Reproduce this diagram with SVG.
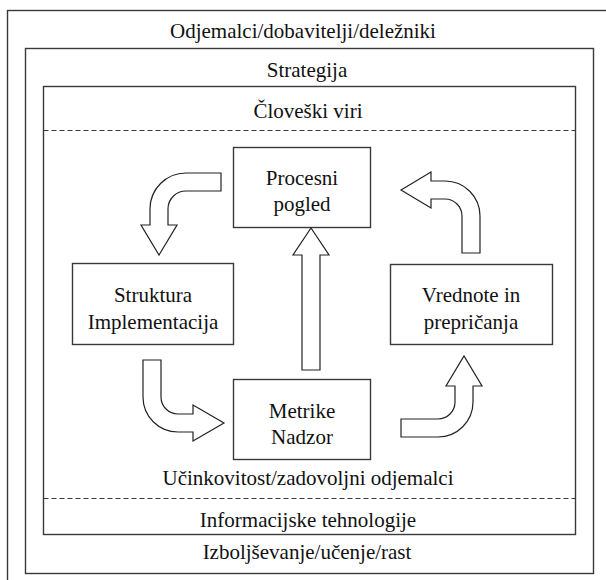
<svg xmlns="http://www.w3.org/2000/svg" width="606" height="580" viewBox="0 0 606 580">
  <style>
    .frame { fill: none; stroke: #3a3a3a; stroke-width: 1.4; }
    .box { fill: #ffffff; stroke: #3a3a3a; stroke-width: 1.4; }
    .divider { fill: none; stroke: #3a3a3a; stroke-width: 1.2; stroke-dasharray: 5 3; }
    .flow { fill: #ffffff; stroke: #222222; stroke-width: 1.2; stroke-linejoin: miter; }
    text { font-family: "Liberation Serif", "Times New Roman", serif; font-size: 21px; fill: #111111; text-anchor: middle; }
  </style>
  <rect width="606" height="580" fill="#ffffff"/>

  <!-- nested context frames -->
  <g id="frame-stakeholders">
    <rect class="frame" x="7.5" y="10.5" width="620" height="590"/>
    <text x="303" y="38">Odjemalci/dobavitelji/deležniki</text>
  </g>
  <g id="frame-strategy">
    <rect class="frame" x="25.5" y="48.5" width="568" height="525"/>
    <text x="307" y="77">Strategija</text>
    <text x="307" y="559">Izboljševanje/učenje/rast</text>
  </g>
  <g id="frame-people">
    <rect class="frame" x="43.5" y="86.5" width="532" height="448"/>
    <text x="308" y="118">Človeški viri</text>
    <line class="divider" x1="43.5" y1="130.5" x2="575.5" y2="130.5"/>
    <text x="308" y="485">Učinkovitost/zadovoljni odjemalci</text>
    <line class="divider" x1="43.5" y1="498.5" x2="575.5" y2="498.5"/>
    <text x="308" y="527">Informacijske tehnologije</text>
  </g>

  <!-- cycle nodes -->
  <g id="node-process">
    <rect class="box" x="233.5" y="147.5" width="137" height="80"/>
    <text x="302" y="185">Procesni</text>
    <text x="302" y="211">pogled</text>
  </g>
  <g id="node-structure">
    <rect class="box" x="72.5" y="263.5" width="161" height="81"/>
    <text x="153" y="302">Struktura</text>
    <text x="153" y="329">Implementacija</text>
  </g>
  <g id="node-values">
    <rect class="box" x="390.5" y="264.5" width="162" height="80"/>
    <text x="471" y="302">Vrednote in</text>
    <text x="471" y="329">prepričanja</text>
  </g>
  <g id="node-metrics">
    <rect class="box" x="233.5" y="379.5" width="137" height="80"/>
    <text x="302" y="418">Metrike</text>
    <text x="302" y="444">Nadzor</text>
  </g>

  <!-- block arrows between nodes -->
  <g id="connectors">
    <path class="flow" d="M221 173 L186 173 A36 36 0 0 0 150 209 L150 225 L141 225 L159 255 L177 225 L168 225 L168 209 A18 18 0 0 1 186 191 L221 191 Z"/>
    <path class="flow" d="M401 190 L431 172 L431 181 L445 181 A35 35 0 0 1 480 216 L480 253 L462 253 L462 216 A17 17 0 0 0 445 199 L431 199 L431 208 Z"/>
    <path class="flow" d="M143 360 L161 360 L161 397 A17 17 0 0 0 178 414 L193 414 L193 405 L224 423 L193 441 L193 432 L178 432 A35 35 0 0 1 143 397 Z"/>
    <path class="flow" d="M401 419 L438 419 A17 17 0 0 0 455 402 L455 386 L446 386 L464 356 L482 386 L473 386 L473 402 A35 35 0 0 1 438 437 L401 437 Z"/>
    <path class="flow" d="M302 370 L302 255 L293 255 L311 228 L329 255 L320 255 L320 370 Z"/>
  </g>
</svg>
